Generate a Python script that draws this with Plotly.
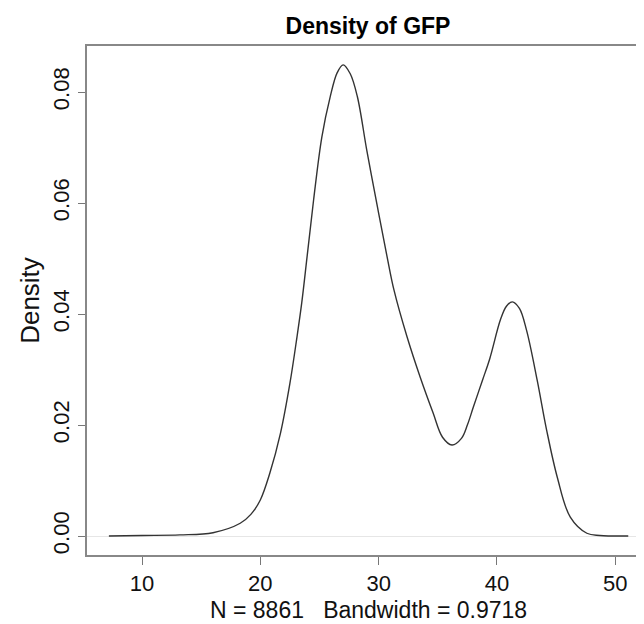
import plotly.graph_objects as go

# density curve of GFP
gfp = [7.2, 10.0, 13.2, 16.0, 18.3, 19.2, 20.0, 20.8, 21.7, 22.5, 23.1, 23.5,
       23.95, 24.5, 25.2, 25.9, 26.5, 27.0, 27.6, 28.2, 29.0, 29.9, 30.7, 31.3,
       32.4, 33.5, 34.6, 35.4, 36.2, 37.0, 37.5, 38.0, 38.8, 39.4, 40.3, 40.8,
       41.3, 41.9, 42.5, 43.4, 44.2, 45.1, 46.2, 47.6, 48.7, 51.1]
density = [0.0, 0.0001, 0.0002, 0.0006, 0.0023, 0.0039, 0.0065, 0.0113, 0.0185,
           0.0275, 0.0359, 0.0420, 0.0503, 0.0605, 0.0719, 0.0791, 0.0835, 0.0849,
           0.0833, 0.0792, 0.0695, 0.0593, 0.0505, 0.0443, 0.0359, 0.0287, 0.0222,
           0.0178, 0.0164, 0.0176, 0.0200, 0.0232, 0.0282, 0.0320, 0.0390, 0.0414,
           0.0422, 0.0410, 0.0371, 0.0281, 0.0191, 0.0106, 0.0034, 0.0005, 0.0001,
           0.0]

n_obs = 8861
bandwidth = 0.9718
x_ticks = [10, 20, 30, 40, 50]
y_ticks = [0.0, 0.02, 0.04, 0.06, 0.08]

font = "Liberation Sans, Arial, Helvetica, sans-serif"
sp = "\u00a0"

# page body has an 8px margin, so the figure is 8px smaller than the window
W, H = 636, 616
L, T, B = 79, 38, 69
plot_w, plot_h = W - L, H - T - B

fig = go.Figure()
fig.add_trace(go.Scatter(
    x=gfp, y=density, mode="lines",
    line=dict(color="#333333", width=1.4, shape="spline", smoothing=1.0),
    hoverinfo="skip", showlegend=False,
))

fig.update_layout(
    width=W, height=H,
    margin=dict(l=L, r=0, t=T, b=B),
    paper_bgcolor="white", plot_bgcolor="white",
    font=dict(family=font, size=22, color="#111111"),
    title=dict(text="<b>Density of GFP</b>", x=360 / W, xanchor="center",
               y=1 - 18 / H, yanchor="middle", yref="container",
               font=dict(size=23, color="#000000")),
)

# x label placed as an annotation so it sits just under the tick labels
fig.add_annotation(
    text=f"N = {n_obs}{sp*3}Bandwidth = {bandwidth}",
    xref="paper", yref="paper", x=(360 - L) / plot_w, y=-55 / plot_h,
    xanchor="center", yanchor="middle", showarrow=False,
    font=dict(size=23, color="#111111"),
)

fig.update_xaxes(
    range=[5.35, 52.43], tickvals=x_ticks, ticks="outside", ticklen=8,
    tickcolor="#777777", showline=True, linecolor="#888888", linewidth=1.5,
    mirror=True, showgrid=False, zeroline=False,
)
fig.update_yaxes(
    range=[-0.00342, 0.0883], tickvals=y_ticks, tickformat=".2f", tickangle=-90,
    ticks="outside", ticklen=7, tickcolor="#777777", showline=True,
    linecolor="#888888", linewidth=1.5, showgrid=False,
    zeroline=True, zerolinecolor="#e6e6e6", zerolinewidth=1,
    title=dict(text="Density", standoff=2),
)

fig.write_html("out.html")
